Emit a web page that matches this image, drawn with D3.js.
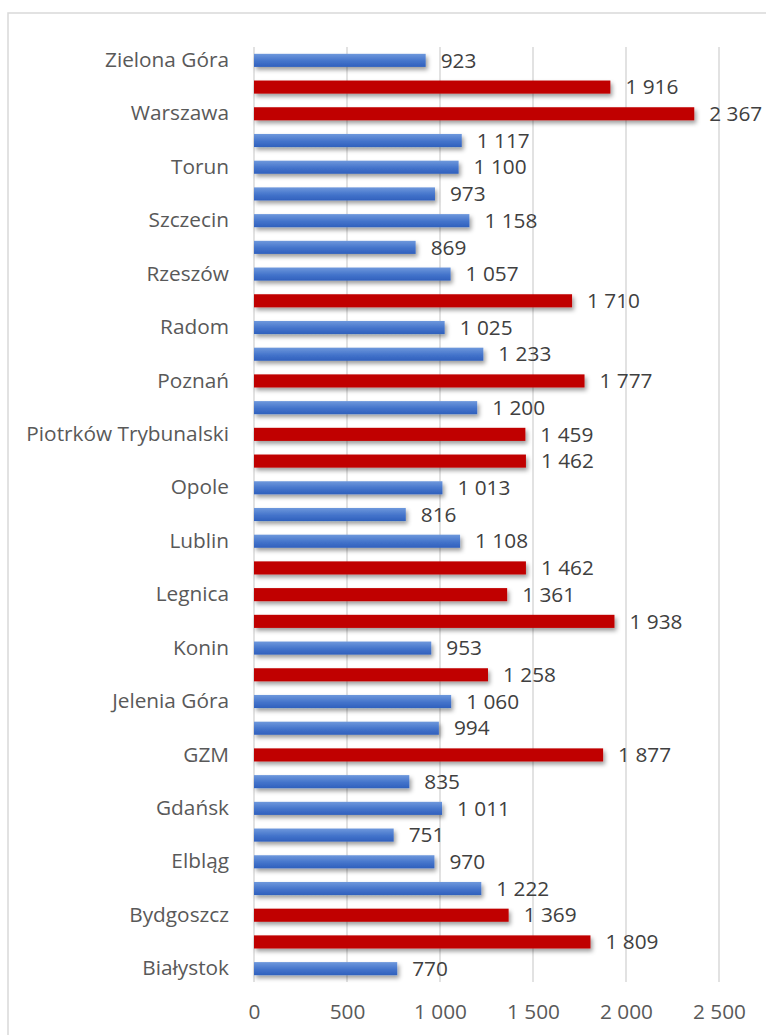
<!DOCTYPE html>
<html><head><meta charset="utf-8">
<script src="https://cdn.jsdelivr.net/npm/d3@7"></script>
<style>
html,body{margin:0;padding:0;background:#fff;}
svg{display:block;}
</style></head>
<body>
<script>
// Categories bottom-to-top (Excel order); only every other label is shown
const categories = ["Białystok","Bielsko-Biała","Bydgoszcz","Częstochowa","Elbląg","Gdynia","Gdańsk","Gorzów Wielkopolski","GZM","Kalisz","Jelenia Góra","Kielce","Konin","Kraków","Legnica","Łódź","Lublin","Olsztyn","Opole","Ostrołęka","Piotrków Trybunalski","Płock","Poznań","Przemyśl","Radom","Rybnik","Rzeszów","Słupsk","Szczecin","Tarnów","Torun","Wałbrzych","Warszawa","Wrocław","Zielona Góra"];
const values = [770,1809,1369,1222,970,751,1011,835,1877,994,1060,1258,953,1938,1361,1462,1108,816,1013,1462,1459,1200,1777,1233,1025,1710,1057,869,1158,973,1100,1117,2367,1916,923];
const highlight = [0,1,1,0,0,0,0,0,1,0,0,1,0,1,1,1,0,0,0,1,1,0,1,0,0,1,0,0,0,0,0,0,1,1,0];
const xTicks = [0,500,1000,1500,2000,2500];

(function(){
const W=766,H=1035;
const svg=d3.select("body").append("svg").attr("width",W).attr("height",H);
const defs=svg.append("defs");
const g1=defs.append("linearGradient").attr("id","blueGrad").attr("x1",0).attr("y1",0).attr("x2",0).attr("y2",1);
g1.append("stop").attr("offset","0%").attr("stop-color","#6e98dc");
g1.append("stop").attr("offset","55%").attr("stop-color","#4474cb");
g1.append("stop").attr("offset","100%").attr("stop-color","#3060bd");
const f=defs.append("filter").attr("id","shadow").attr("x","-5%").attr("y","-50%").attr("width","115%").attr("height","250%");
f.append("feDropShadow").attr("dx",2).attr("dy",3).attr("stdDeviation",2).attr("flood-color","#000").attr("flood-opacity",0.38);

// chart border
svg.append("rect").attr("x",8).attr("y",13).attr("width",W+20).attr("height",H+20)
  .attr("fill","none").attr("stroke","#d9d9d9").attr("stroke-width",1.5);

const pL=254, pR=719, pT=47, pB=982;
const x=d3.scaleLinear().domain([0,2500]).range([pL,pR]);
const y=d3.scaleBand().domain(categories).range([pB,pT]).paddingInner(0.51).paddingOuter(0.255);

const fmt=v=>d3.format(",")(v).replace(/,/g," ");
const font="'Open Sans', Lato, sans-serif";
const fs=20.8;

// gridlines
svg.append("g").selectAll("line").data(xTicks).join("line")
  .attr("x1",d=>x(d)).attr("x2",d=>x(d)).attr("y1",pT).attr("y2",pB)
  .attr("stroke","#d9d9d9").attr("stroke-width",1.5);

// x axis labels
const xAxis=d3.axisBottom(x).tickValues(xTicks).tickSize(0).tickPadding(0).tickFormat(fmt);
const xa=svg.append("g").attr("transform",`translate(0,${pB+19})`).call(xAxis);
xa.select(".domain").remove();
xa.selectAll("text").attr("font-family",font).attr("font-size",fs).attr("fill","#595959").attr("dy","0.85em");

// y axis labels (every other category)
const shown=categories.filter((c,i)=>i%2===0);
const yAxis=d3.axisLeft(y).tickValues(shown).tickSize(0).tickPadding(25);
const ya=svg.append("g").attr("transform",`translate(${pL},0)`).call(yAxis);
ya.select(".domain").remove();
ya.selectAll("text").attr("font-family",font).attr("font-size",fs).attr("fill","#595959");

const data=categories.map((c,i)=>({c,v:values[i],h:highlight[i]}));
svg.append("g").selectAll("rect").data(data).join("rect")
  .attr("x",x(0)).attr("y",d=>y(d.c)).attr("width",d=>x(d.v)-x(0)).attr("height",y.bandwidth())
  .attr("fill",d=>d.h?"#c00000":"url(#blueGrad)").attr("filter","url(#shadow)");

svg.append("g").selectAll("text").data(data).join("text")
  .attr("x",d=>x(d.v)+15).attr("y",d=>y(d.c)+y.bandwidth()/2).attr("dy","0.35em")
  .attr("font-family",font).attr("font-size",fs).attr("fill","#404040").text(d=>fmt(d.v));
})();
</script>
</body></html>
